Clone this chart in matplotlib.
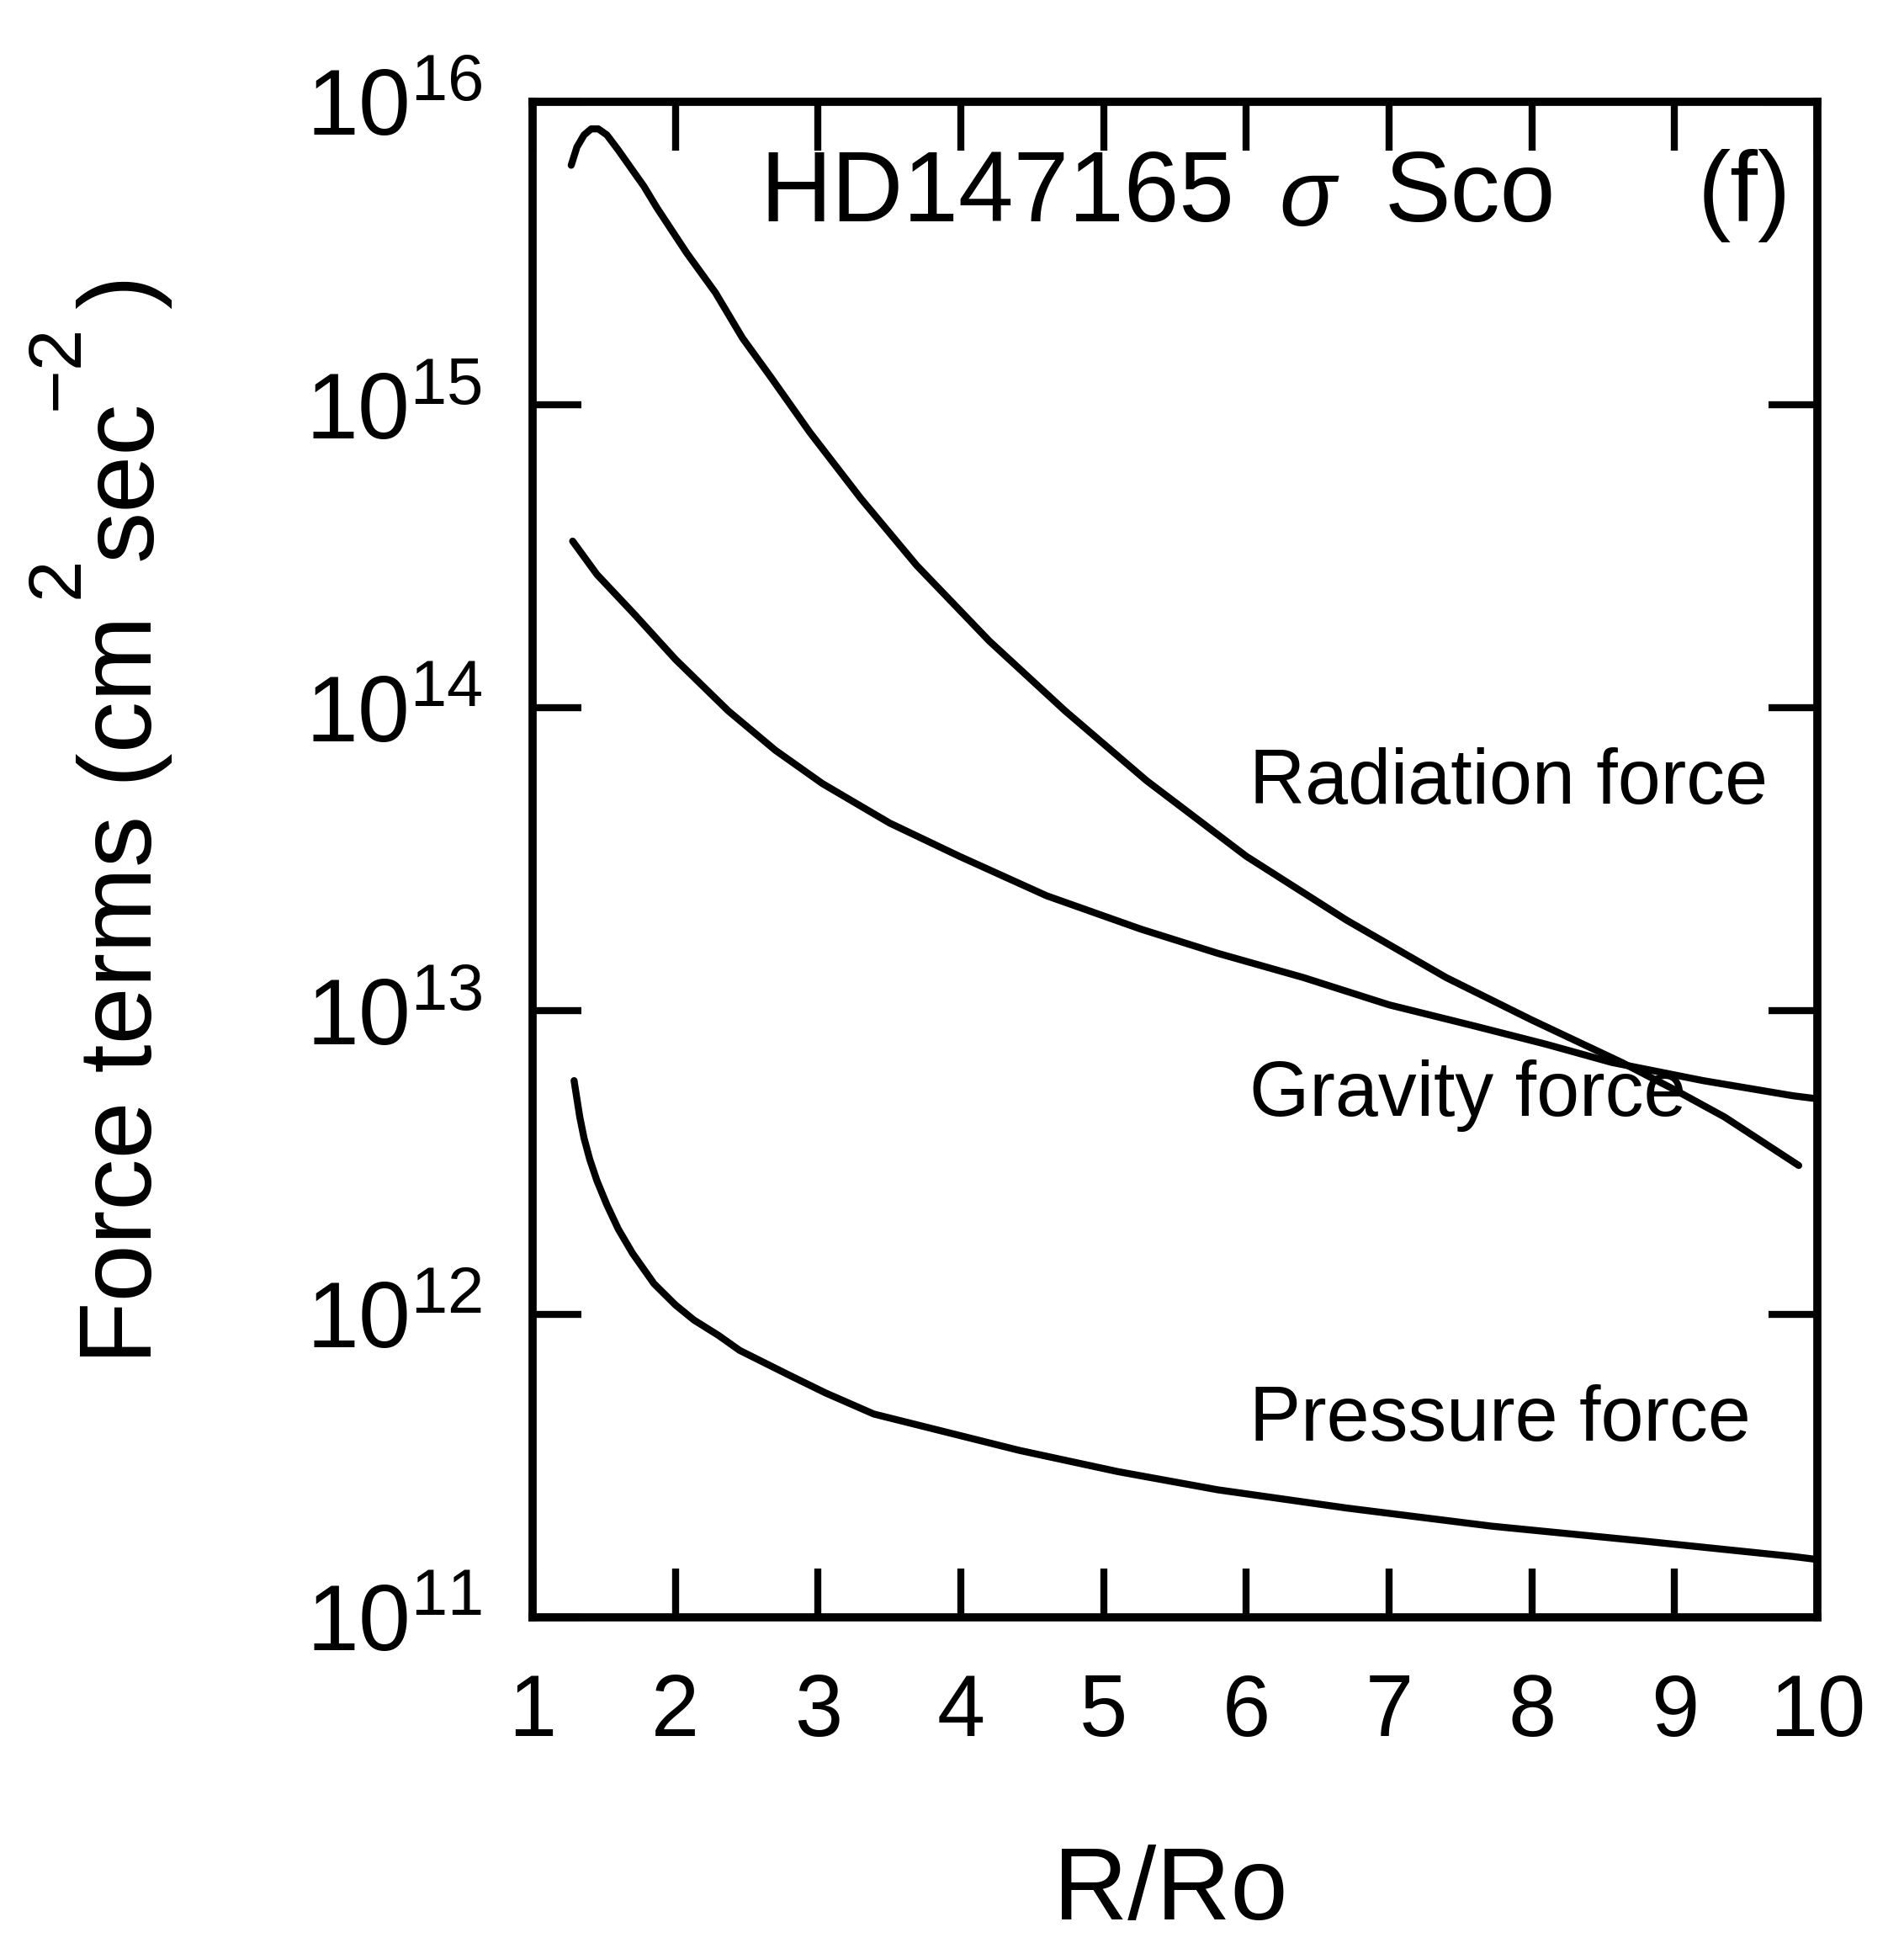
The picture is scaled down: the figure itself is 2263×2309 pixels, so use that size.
import numpy as np
import matplotlib
matplotlib.use("Agg")
import matplotlib.pyplot as plt

plt.rcParams['font.family'] = ['Liberation Sans', 'DejaVu Sans']
plt.rcParams['mathtext.fontset'] = 'custom'
plt.rcParams['mathtext.rm'] = 'Liberation Sans'
plt.rcParams['mathtext.it'] = 'Liberation Sans'

# ---- data (R/Ro, log10 force) ----
rad_x = [1.27, 1.31, 1.36, 1.41, 1.46, 1.52, 1.60, 1.69, 1.78, 1.87, 2.08, 2.28, 2.47, 2.67, 2.94,
         3.3, 3.69, 4.2, 4.73, 5.3, 6.0, 6.7, 7.4, 8.0, 8.63, 9.0, 9.35, 9.87]
rad_log = [15.79, 15.85, 15.89, 15.91, 15.91, 15.89, 15.84, 15.78, 15.72, 15.65, 15.50, 15.37, 15.22,
           15.09, 14.91, 14.69, 14.47, 14.22, 13.99, 13.76, 13.51, 13.30, 13.11, 12.97, 12.83,
           12.74, 12.65, 12.49]

grav_x = [1.28, 1.45, 1.71, 2.0, 2.37, 2.7, 3.03, 3.5, 3.99, 4.6, 5.26, 5.8, 6.40, 7.0, 7.60, 8.1,
          8.56, 9.2, 9.83, 10.0]
grav_log = [14.55, 14.44, 14.31, 14.16, 13.99, 13.86, 13.75, 13.62, 13.51, 13.38, 13.27, 13.19, 13.11,
            13.02, 12.95, 12.89, 12.83, 12.77, 12.72, 12.71]

pres_x = [1.29, 1.31, 1.33, 1.36, 1.40, 1.45, 1.52, 1.60, 1.70, 1.85, 2.0, 2.13, 2.30, 2.45, 2.62,
          2.79, 3.05, 3.39, 3.9, 4.41, 5.1, 5.80, 6.7, 7.72, 8.8, 9.83, 10.0]
pres_log = [12.77, 12.71, 12.65, 12.58, 12.51, 12.44, 12.36, 12.28, 12.20, 12.10, 12.03, 11.98, 11.93,
            11.88, 11.84, 11.80, 11.74, 11.67, 11.61, 11.55, 11.48, 11.42, 11.36, 11.30, 11.25,
            11.20, 11.19]

x_ticks = [1, 2, 3, 4, 5, 6, 7, 8, 9, 10]
x_ticklabels = ['1', '2', '3', '4', '5', '6', '7', '8', '9', '10']
y_exps = [11, 12, 13, 14, 15, 16]
y_ticklabels = [r'$\mathregular{10^{%d}}$' % e for e in y_exps]

curve_labels = ['Radiation force', 'Gravity force', 'Pressure force']
curve_label_pos = [(6.02, 10**13.75), (6.02, 10**12.72), (6.02, 10**11.65)]

W, H = 1537.0, 1568.0  # reference preview size used for placement fractions

fig = plt.figure(figsize=(22.63, 23.09), dpi=100)
ax = fig.add_axes([430 / W, 1 - 1305 / H, (1467 - 430) / W, (1305 - 82) / H])

lw = 6
for xs, ls in [(rad_x, rad_log), (grav_x, grav_log), (pres_x, pres_log)]:
    ax.plot(xs, 10 ** np.array(ls), color='black', lw=lw, solid_capstyle='round',
            solid_joinstyle='round')

ax.set_yscale('log')
ax.set_xlim(1, 10)
ax.set_ylim(1e11, 1e16)

ax.set_xticks(x_ticks)
ax.set_xticklabels(x_ticklabels)
ax.set_yticks([10.0 ** e for e in y_exps])
ax.set_yticklabels(y_ticklabels)
ax.minorticks_off()

ax.tick_params(axis='x', which='major', direction='in', length=42, width=6,
               top=True, bottom=True, labelsize=74, pad=48)
ax.tick_params(axis='y', which='major', direction='in', length=42, width=6,
               left=True, right=True, labelsize=80, pad=43)

for s in ax.spines.values():
    s.set_linewidth(7)

for lab, (xx, yy) in zip(curve_labels, curve_label_pos):
    ax.text(xx, yy, lab, fontsize=66, ha='left', va='center')

# title pieces
fig.text(805 / W, 1 - 158 / H, 'HD147165', fontsize=85, ha='center', va='center')
fig.text(1055 / W, 1 - 162 / H, 'σ', fontsize=80, ha='center', va='center', style='italic')
fig.text(1187 / W, 1 - 158 / H, 'Sco', fontsize=85, ha='center', va='center')
fig.text(1408 / W, 1 - 158 / H, '(f)', fontsize=85, ha='center', va='center')

fig.text(945 / W, 1 - 1527 / H, 'R/Ro', fontsize=88, ha='center', va='center')

# y-axis label, built from pieces so the raised exponents sit like the original
ylab_pieces = [
    ('Force terms (cm', 122, 1101, 88),
    ('2', 63, 483, 64),
    ('sec', 122, 452, 88),
    ('−2', 63, 331, 64),
    (')', 122, 249, 88),
]
for txt, bx, by, fs in ylab_pieces:
    fig.text(bx / W, 1 - by / H, txt, fontsize=fs, rotation=90,
             rotation_mode='anchor', ha='left', va='baseline')

fig.savefig('out.png', dpi=100)
